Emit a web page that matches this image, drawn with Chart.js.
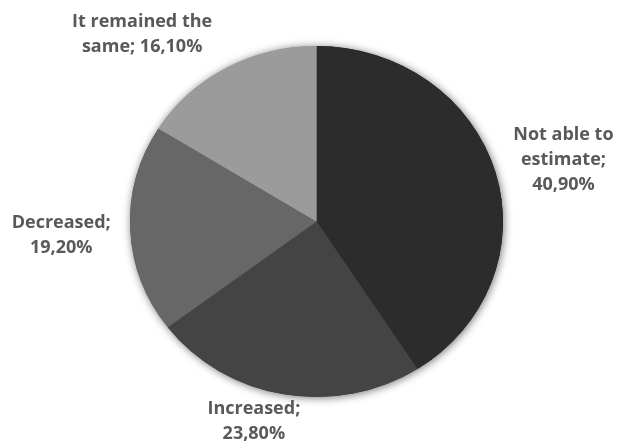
<!DOCTYPE html>
<html>
<head>
<meta charset="utf-8">
<script src="https://cdn.jsdelivr.net/npm/chart.js@4/dist/chart.umd.min.js"></script>
<style>
  html, body { margin: 0; padding: 0; background: #ffffff; }
  #wrap { width: 617px; height: 443px; position: relative; }
</style>
</head>
<body>
<div id="wrap"><canvas id="chart" width="617" height="443"></canvas></div>
<script>
// Answers and their shares (percent)
const categories = ['Not able to estimate', 'Increased', 'Decreased', 'It remained the same'];
const shares = [40.9, 23.8, 19.2, 16.1];
// Label text lines for each slice
const labelLines = [
  ['Not able to', 'estimate;', '40,90%'],
  ['Increased;', '23,80%'],
  ['Decreased;', '19,20%'],
  ['It remained the', 'same; 16,10%']
];

const sliceColors = ['#2c2c2c', '#444444', '#676767', '#9b9b9b'];
// Pixel nudges from each slice's outer mid point to its label centre
const labelNudge = [[68, -12], [-30, 27], [-69, 6], [-84, -34]];
const yScale = 175.5 / 186.5; // pie is drawn slightly flattened

const flattenPlugin = {
  id: 'flatten',
  beforeDatasetsDraw(chart) {
    const ctx = chart.ctx;
    const arcs = chart.getDatasetMeta(0).data;
    if (!arcs.length) return;
    const cy = arcs[0].y;
    ctx.save();
    ctx.translate(0, cy);
    ctx.scale(1, yScale);
    ctx.translate(0, -cy);
    // soft shadow under the pie, covered by the slices drawn afterwards
    ctx.save();
    ctx.shadowColor = 'rgba(0,0,0,0.55)';
    ctx.shadowBlur = 9;
    ctx.shadowOffsetX = 1;
    ctx.shadowOffsetY = 1;
    arcs.forEach(a => a.draw(ctx));
    ctx.restore();
  },
  afterDatasetsDraw(chart) {
    const ctx = chart.ctx;
    ctx.restore();
    const arcs = chart.getDatasetMeta(0).data;
    ctx.save();
    ctx.fillStyle = '#595959';
    ctx.font = 'bold 18px "Open Sans", sans-serif';
    ctx.textAlign = 'center';
    ctx.textBaseline = 'middle';
    const lh = 25;
    arcs.forEach((a, i) => {
      const mid = (a.startAngle + a.endAngle) / 2;
      const ax = a.x + Math.cos(mid) * a.outerRadius;
      const ay = a.y + Math.sin(mid) * a.outerRadius * yScale;
      const lx = ax + labelNudge[i][0];
      const ly = ay + labelNudge[i][1];
      const lines = labelLines[i];
      const top = ly - (lines.length - 1) * lh / 2;
      lines.forEach((t, k) => ctx.fillText(t, lx, top + k * lh));
    });
    ctx.restore();
  }
};

new Chart(document.getElementById('chart'), {
  type: 'pie',
  data: {
    labels: categories,
    datasets: [{
      data: shares,
      backgroundColor: sliceColors,
      borderWidth: 0
    }]
  },
  options: {
    responsive: false,
    animation: false,
    layout: { padding: { top: 35, bottom: 35, left: 130, right: 114 } },
    plugins: {
      legend: { display: false },
      tooltip: { enabled: false }
    }
  },
  plugins: [flattenPlugin]
});
</script>
</body>
</html>
